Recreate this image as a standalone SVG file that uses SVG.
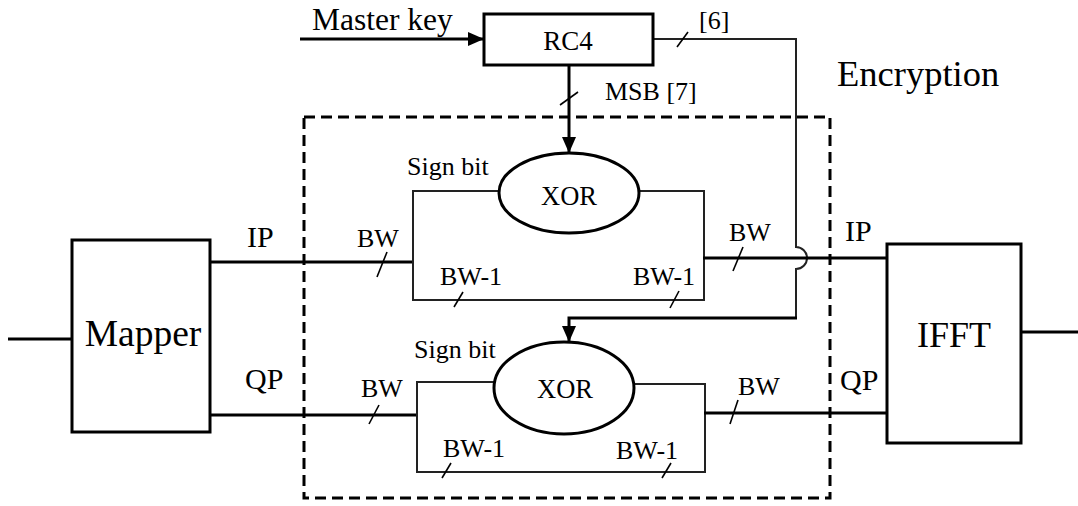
<svg xmlns="http://www.w3.org/2000/svg" width="1078" height="506" viewBox="0 0 1078 506">
  <style>
    .box { fill: #fff; stroke: #000; stroke-width: 3; }
    .thick { fill: none; stroke: #000; stroke-width: 3; }
    .thin { fill: none; stroke: #222; stroke-width: 2; }
    .tick { fill: none; stroke: #000; stroke-width: 1.6; }
    .dash { fill: none; stroke: #000; stroke-width: 3; stroke-dasharray: 11 6; }
  </style>
  <defs>
    <marker id="arrow" viewBox="0 0 16 14" refX="16" refY="7" markerWidth="16" markerHeight="14" markerUnits="userSpaceOnUse" orient="auto">
      <path d="M0,0 L16,7 L0,14 Z" fill="#000"/>
    </marker>
  </defs>

  <!-- encryption block boundary -->
  <rect class="dash" x="304" y="117" width="526" height="381"/>
  <text font-family="Liberation Serif" font-size="36.5" x="837" y="86">Encryption</text>

  <g id="connectors">
    <!-- mapper input and IFFT output -->
    <line class="thick" x1="8" y1="339" x2="72" y2="339"/>
    <line class="thick" x1="1021" y1="332" x2="1078" y2="332"/>
    <!-- master key into RC4 -->
    <line class="thick" x1="300" y1="39" x2="484" y2="39" marker-end="url(#arrow)"/>
    <!-- RC4 MSB to upper XOR -->
    <line class="thick" x1="569" y1="65" x2="569" y2="153" marker-end="url(#arrow)"/>
    <line class="tick" x1="578" y1="92" x2="560" y2="105"/>
    <!-- RC4 [6] path to lower XOR, hopping over IP line -->
    <path class="thin" d="M653,39 H796 V247 A11,11 0 0 1 796,269 V318"/>
    <path class="thick" d="M797,318 H569 V342" marker-end="url(#arrow)"/>
    <line class="tick" x1="688" y1="32" x2="677" y2="47"/>

    <!-- IP path -->
    <line class="thick" x1="210" y1="262" x2="414" y2="262"/>
    <line class="tick" x1="387" y1="252" x2="377" y2="277"/>
    <path class="thin" d="M499,191 H413 V300 H704 V191 H639"/>
    <line class="tick" x1="463" y1="292" x2="454" y2="307"/>
    <line class="tick" x1="679" y1="291" x2="670" y2="308"/>
    <line class="thick" x1="703" y1="258" x2="887" y2="258"/>
    <line class="tick" x1="743" y1="247" x2="733" y2="271"/>

    <!-- QP path -->
    <line class="thick" x1="210" y1="415" x2="418" y2="415"/>
    <line class="tick" x1="379" y1="405" x2="369" y2="424"/>
    <path class="thin" d="M494,382 H417 V472 H705 V384 H634"/>
    <line class="tick" x1="451" y1="463" x2="442" y2="478"/>
    <line class="tick" x1="671" y1="463" x2="662" y2="478"/>
    <line class="thick" x1="704" y1="413" x2="887" y2="413"/>
    <line class="tick" x1="738" y1="400" x2="730" y2="424"/>
  </g>

  <g id="mapper">
    <rect class="box" x="72" y="240" width="138" height="192"/>
    <text font-family="Liberation Serif" font-size="37.5" x="143" y="346" text-anchor="middle">Mapper</text>
  </g>

  <g id="ifft">
    <rect class="box" x="887" y="244" width="134" height="199"/>
    <text font-family="Liberation Serif" font-size="36" x="954" y="347" text-anchor="middle">IFFT</text>
  </g>

  <g id="rc4">
    <rect class="box" x="484" y="14" width="169" height="51"/>
    <text font-family="Liberation Serif" font-size="27" x="568" y="50" text-anchor="middle">RC4</text>
  </g>

  <g id="xor-ip">
    <ellipse class="box" cx="569" cy="193" rx="70" ry="40"/>
    <text font-family="Liberation Serif" font-size="26.5" x="569" y="205" text-anchor="middle">XOR</text>
  </g>

  <g id="xor-qp">
    <ellipse class="box" cx="564" cy="388" rx="70" ry="46"/>
    <text font-family="Liberation Serif" font-size="26.5" x="565" y="398" text-anchor="middle">XOR</text>
  </g>

  <g id="labels" font-family="Liberation Serif" font-size="26">
    <text font-size="31.5" x="312" y="30">Master key</text>
    <text x="605" y="100">MSB [7]</text>
    <text x="699" y="29">[6]</text>
    <text font-size="30" x="247" y="247">IP</text>
    <text font-size="30" x="245" y="389">QP</text>
    <text font-size="30" x="845" y="241">IP</text>
    <text font-size="30" x="840" y="390">QP</text>
    <text x="407" y="175">Sign bit</text>
    <text x="357" y="247">BW</text>
    <text x="440" y="285">BW-1</text>
    <text x="633" y="285">BW-1</text>
    <text x="729" y="241">BW</text>
    <text x="414" y="358">Sign bit</text>
    <text x="361" y="397">BW</text>
    <text x="443" y="457">BW-1</text>
    <text x="616" y="459">BW-1</text>
    <text x="738" y="395">BW</text>
  </g>
</svg>
